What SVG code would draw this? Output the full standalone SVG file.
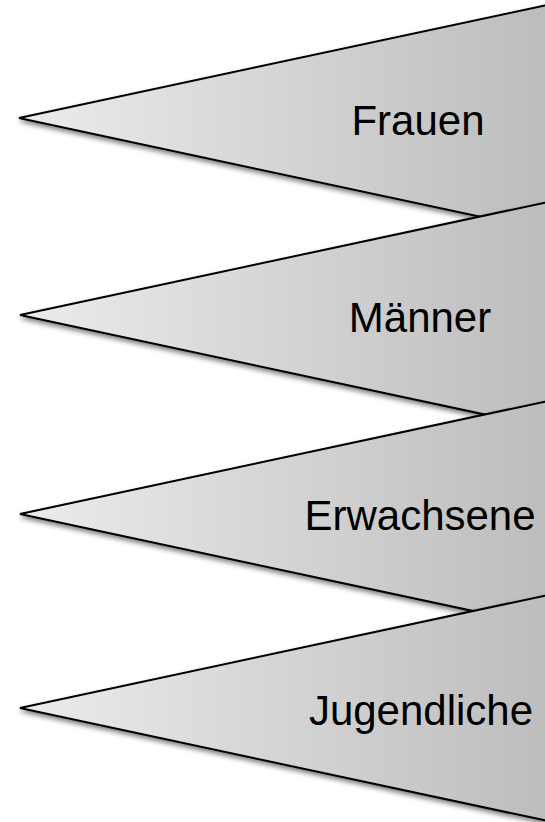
<svg xmlns="http://www.w3.org/2000/svg" width="545" height="822" viewBox="0 0 545 822">
<style>
.tri{fill:url(#g);stroke:#000;stroke-width:2;stroke-linejoin:miter;filter:url(#sh)}
.lbl{font-family:"Liberation Sans",Arial,sans-serif;font-size:42px;fill:#000;text-anchor:middle}
</style>
<defs>
<linearGradient id="g" gradientUnits="userSpaceOnUse" x1="19" y1="0" x2="545" y2="0">
<stop offset="0" stop-color="#ececec"/>
<stop offset="1" stop-color="#bdbdbd"/>
</linearGradient>
<filter id="sh" x="-10%" y="-10%" width="130%" height="130%">
<feDropShadow dx="1" dy="3" stdDeviation="2.5" flood-color="#000" flood-opacity="0.5"/>
</filter>
</defs>
<rect width="545" height="822" fill="#fff"/>
<g id="connectors"></g>
<g id="node-frauen">
<polygon class="tri" points="19,118 560,2.2 560,233.8"/>
<text class="lbl" x="418" y="135">Frauen</text>
</g>
<g id="node-maenner">
<polygon class="tri" points="20,315 560,199.4 560,430.6"/>
<text class="lbl" x="420" y="332">Männer</text>
</g>
<g id="node-erwachsene">
<polygon class="tri" points="20,514 560,398.4 560,629.6"/>
<text class="lbl" x="420" y="530">Erwachsene</text>
</g>
<g id="node-jugendliche">
<polygon class="tri" points="20,708 560,592.4 560,823.6"/>
<text class="lbl" x="421" y="725">Jugendliche</text>
</g>
</svg>
